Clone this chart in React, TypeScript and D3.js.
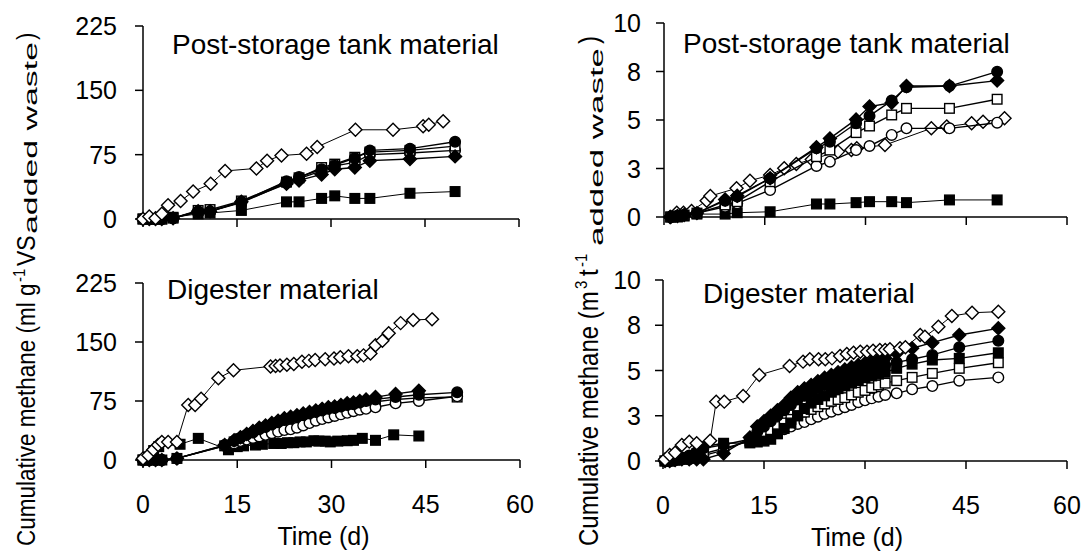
import React from 'react';
import * as d3 from 'd3';

// ---------- axis ticks ----------
const X_TICKS = [0, 15, 30, 45, 60];
const ML_TICKS = [0, 75, 150, 225];
const ML_TICK_LABELS = ['0', '75', '150', '225'];
const M3_TICKS = [0, 2.5, 5, 7.5, 10];
const M3_TICK_LABELS = ['0', '3', '5', '8', '10'];

// ---------- top-left: post-storage tank material (ml g-1 VS) ----------
const tlDays = [0, 1, 2, 3, 4.8, 8.8, 10.7, 15.7, 22.9, 24.9, 28.5, 30.6, 33.8, 36.2, 42.6, 49.8];
const tlFilledCircle = [0, 0, 0, 0, 1, 9, 9, 20, 44, 49, 58, 63, 71, 80, 82, 90];
const tlOpenSquare = [0, 0, 0, 0, 1, 10, 11, 21, 43, 48, 60, 64, 72, 78, 80, 85];
const tlOpenCircle = [0, 0, 0, 0, 1, 8, 9, 19, 42, 47, 56, 62, 66, 75, 77, 80];
const tlFilledDiamond = [0, 0, 0, 0, 1, 9, 9, 20, 41, 45, 52, 58, 60, 68, 70, 73];
const tlFilledSquare = [0, 0, 0, 0, 2, 6, 7, 10, 20, 20, 24, 27, 24, 24, 30, 32];
const tlOpenDiamondDays = [0, 1, 2, 3, 4, 6, 8, 10.8, 13.1, 18.1, 19.8, 22.1, 26.1, 27.8, 33.9, 39.9, 44.7, 45.6, 47.9];
const tlOpenDiamond = [0, 3, 1, 6, 16, 21, 32, 41, 56, 59, 68, 74, 76, 84, 104, 104, 108, 110, 114];

// ---------- top-right: post-storage tank material (m3 t-1) ----------
const trDays = [1, 2, 3, 4.9, 9.1, 10.9, 15.8, 22.7, 24.7, 28.6, 30.6, 33.9, 36.1, 42.5, 49.6];
const trFilledCircle = [0, 0.05, 0.1, 0.2, 0.84, 1.05, 1.99, 3.54, 3.88, 4.83, 5.21, 6.0, 6.69, 6.75, 7.49];
const trFilledDiamond = [0, 0.05, 0.1, 0.2, 0.9, 1.1, 2.0, 3.59, 4.05, 5.03, 5.69, 5.89, 6.75, 6.75, 7.03];
const trOpenSquare = [0, 0.05, 0.1, 0.2, 0.62, 0.79, 1.82, 3.11, 3.45, 4.35, 4.69, 5.26, 5.6, 5.6, 6.07];
const trOpenCircle = [0, 0.05, 0.1, 0.2, 0.53, 0.7, 1.39, 2.63, 2.85, 3.45, 3.66, 4.23, 4.57, 4.57, 4.86];
const trFilledSquare = [0, 0, 0.05, 0.15, 0.15, 0.22, 0.27, 0.67, 0.67, 0.74, 0.79, 0.79, 0.74, 0.88, 0.88];
const trOpenDiamondDays = [0.9, 1.9, 2.9, 4.1, 6.35, 6.9, 10.8, 12.8, 15.8, 17.9, 19.7, 22.0, 25.9, 27.9, 28.7, 32.9, 39.8, 42.1, 45.8, 47.5, 50.7];
const trOpenDiamond = [0, 0.22, 0.22, 0.31, 0.84, 1.08, 1.48, 1.87, 2.16, 2.51, 2.73, 2.97, 3.37, 3.45, 3.54, 3.71, 4.57, 4.66, 4.83, 4.91, 5.09];

// ---------- bottom-left: digester material (ml g-1 VS) ----------
const blDays = [0, 1, 2, 3, 5.4, 13, 14.5, 15.5, 16.5, 17.5, 18.5, 19.5, 20.5, 21.5, 22.5, 23.5, 24.5, 25.5, 26.5, 27.5, 28.5, 29.5, 30.5, 31.5, 32.5, 33.5, 34.5, 35.5, 37, 40.2, 43.9, 50];
const blFilledDiamond = [0, 0, 0, 0, 2, 19, 25, 29, 33, 37, 41, 44, 47, 50, 53, 55, 57, 59, 61, 63, 65, 67, 68, 70, 72, 73, 75, 77, 80, 84, 88];
const blFilledCircle = [0, 0, 0, 0, 2, 19, 24, 28, 32, 35, 39, 42, 45, 48, 51, 53, 55, 57, 59, 61, 63, 65, 66, 68, 70, 71, 73, 75, 77, 80, 83, 86];
const blOpenSquare = [0, 0, 0, 0, 2, 18, 23, 27, 30, 33, 36, 39, 42, 45, 48, 50, 52, 54, 56, 58, 60, 62, 63, 65, 67, 68, 70, 72, 74, 77, 79, 80];
const blOpenCircle = [0, 0, 0, 0, 2, 18, 21, 24, 26, 28, 30, 32, 34, 36, 38, 39, 41, 44, 47, 50, 52, 54, 56, 58, 60, 62, 64, 65, 67, 72, 75, 81];
const blFilledSquareDays = [0, 1, 1.7, 2.5, 5.9, 8.8, 13.6, 15, 16, 17.9, 19, 20.8, 22, 23, 24, 25, 26, 27.2, 28, 29, 29.8, 31, 32.5, 33.5, 34.9, 37, 39.9, 43.9];
const blFilledSquare = [0, 4, 12, 17, 20, 27.5, 13, 17, 18, 19, 20, 21, 21, 22, 22, 23, 23, 24.5, 24, 24, 23, 24, 24.5, 25, 27.5, 25, 32, 30.5];
const blOpenDiamondDays = [0, 0.85, 1.65, 2.4, 3, 4, 5.4, 7.2, 8.3, 9.25, 12, 14.4, 20.3, 21.1, 21.8, 22.9, 24, 25.3, 26.4, 27.4, 29, 30.4, 31.4, 32.7, 34.1, 35.1, 36.2, 37, 38.1, 39.1, 41, 43, 46];
const blOpenDiamond = [2, 6, 13, 19, 23, 23, 23, 70, 70, 78, 104, 114, 119, 119.5, 120, 121, 122, 125, 126, 127, 128, 129, 130.5, 132, 132, 133, 135.5, 146, 151.6, 161, 174, 178, 179];

// ---------- bottom-right: digester material (m3 t-1) ----------
const brDays = [0.3, 1, 1.8, 2.8, 3.9, 5, 6, 9, 12.9, 14, 15, 16, 17, 18, 19, 20, 21, 22, 23, 24, 25, 26, 27, 28, 29, 30, 31, 32, 33, 34.7, 37, 40, 44, 49.8];
const brFilledDiamond = [0, 0, 0.05, 0.1, 0.1, 0.1, 0.1, 0.42, 1.3, 1.9, 2.2, 2.5, 2.8, 3.1, 3.5, 3.8, 4.0, 4.2, 4.4, 4.6, 4.75, 4.9, 5.05, 5.2, 5.3, 5.4, 5.5, 5.6, 5.67, 5.95, 6.23, 6.54, 6.96, 7.33];
const brFilledCircle = [0, 0.05, 0.1, 0.2, 0.3, 0.5, 0.7, 0.9, 1.2, 1.6, 1.9, 2.2, 2.5, 2.8, 3.1, 3.4, 3.6, 3.8, 4.0, 4.2, 4.35, 4.5, 4.65, 4.8, 4.9, 5.0, 5.1, 5.2, 5.3, 5.45, 5.62, 5.86, 6.28, 6.65];
const brFilledSquare = [0, 0, 0.05, 0.1, 0.2, 0.4, 0.79, 0.98, 1.0, 1.05, 1.1, 1.2, 1.5, 1.8, 2.1, 2.5, 2.9, 3.2, 3.4, 3.6, 3.8, 4.0, 4.15, 4.3, 4.45, 4.6, 4.7, 4.8, 4.9, 5.12, 5.35, 5.58, 5.67, 5.98];
const brOpenSquare = [0, 0, 0.05, 0.1, 0.15, 0.2, 0.4, 0.7, 1.1, 1.3, 1.5, 1.7, 1.9, 2.1, 2.3, 2.5, 2.7, 2.85, 3.0, 3.15, 3.3, 3.4, 3.5, 3.65, 3.8, 3.9, 4.05, 4.2, 4.3, 4.44, 4.62, 4.84, 5.12, 5.43];
const brOpenCircle = [0, 0, 0.05, 0.1, 0.1, 0.15, 0.3, 0.6, 1.16, 1.3, 1.4, 1.5, 1.6, 1.75, 1.9, 2.05, 2.15, 2.3, 2.45, 2.6, 2.72, 2.85, 2.97, 3.1, 3.25, 3.35, 3.46, 3.55, 3.65, 3.74, 3.96, 4.14, 4.44, 4.62];
const brOpenDiamondDays = [0.3, 1, 1.8, 2.8, 3.9, 5, 7, 7.9, 9.1, 11.9, 14.3, 18.8, 20.8, 21.8, 23.1, 24.1, 25.1, 26.3, 27.3, 28.3, 29.3, 30.3, 31.2, 32.2, 33, 33.7, 35.2, 36, 38.2, 38.9, 40.9, 42.9, 45.9, 49.8];
const brOpenDiamond = [0.09, 0.33, 0.46, 0.88, 1.07, 0.98, 1.12, 3.28, 3.28, 3.59, 4.75, 5.25, 5.49, 5.62, 5.62, 5.62, 5.67, 5.8, 5.91, 5.98, 6.04, 6.04, 6.09, 6.13, 6.13, 6.17, 6.23, 6.28, 6.96, 6.87, 7.42, 8.01, 8.19, 8.25];

type Marker = 'od' | 'fd' | 'fc' | 'oc' | 'os' | 'fs';
interface Series { marker: Marker; days: number[]; values: number[]; lw: number; }

const mk = (marker: Marker, days: number[], values: number[], lw = 1.4): Series => ({ marker, days, values, lw });

const panels = [
  {
    title: 'Post-storage tank material', titleX: 172, titleY: 54,
    left: 143, right: 519, bottom: 219, top: 26, yMax: 225,
    yTicks: ML_TICKS, yLabels: ML_TICK_LABELS, labelEnd: 117, xLabels: false,
    series: [
      mk('fs', tlDays, tlFilledSquare, 1),
      mk('oc', tlDays, tlOpenCircle),
      mk('os', tlDays, tlOpenSquare),
      mk('fd', tlDays, tlFilledDiamond),
      mk('fc', tlDays, tlFilledCircle),
      mk('od', tlOpenDiamondDays, tlOpenDiamond, 1),
    ],
  },
  {
    title: 'Post-storage tank material', titleX: 683, titleY: 53,
    left: 664, right: 1067, bottom: 217, top: 23, yMax: 10,
    yTicks: M3_TICKS, yLabels: M3_TICK_LABELS, labelEnd: 641, xLabels: false,
    series: [
      mk('fs', trDays, trFilledSquare, 1),
      mk('od', trOpenDiamondDays, trOpenDiamond, 1),
      mk('oc', trDays, trOpenCircle),
      mk('os', trDays, trOpenSquare),
      mk('fd', trDays, trFilledDiamond),
      mk('fc', trDays, trFilledCircle),
    ],
  },
  {
    title: 'Digester material', titleX: 167, titleY: 299,
    left: 143, right: 520, bottom: 460, top: 283, yMax: 225,
    yTicks: ML_TICKS, yLabels: ML_TICK_LABELS, labelEnd: 117, xLabels: true,
    series: [
      mk('fs', blFilledSquareDays, blFilledSquare, 1),
      mk('os', blDays, blOpenSquare),
      mk('oc', blDays, blOpenCircle),
      mk('fc', blDays, blFilledCircle),
      mk('fd', blDays, blFilledDiamond),
      mk('od', blOpenDiamondDays, blOpenDiamond, 1),
    ],
  },
  {
    title: 'Digester material', titleX: 703, titleY: 303,
    left: 663, right: 1067, bottom: 461, top: 280, yMax: 10,
    yTicks: M3_TICKS, yLabels: M3_TICK_LABELS, labelEnd: 641, xLabels: true,
    series: [
      mk('oc', brDays, brOpenCircle),
      mk('os', brDays, brOpenSquare),
      mk('fs', brDays, brFilledSquare),
      mk('fc', brDays, brFilledCircle),
      mk('fd', brDays, brFilledDiamond),
      mk('od', brOpenDiamondDays, brOpenDiamond, 1),
    ],
  },
];

const FONT = '"Liberation Sans", Arial, Helvetica, sans-serif';

function MarkerShape({ type, x, y }: { type: Marker; x: number; y: number }) {
  const filled = type === 'fd' || type === 'fc' || type === 'fs';
  const fill = filled ? '#000' : '#fff';
  const sw = 1.4;
  if (type === 'od' || type === 'fd') {
    const r = 6.5;
    return <polygon points={`${x},${y - r} ${x + r},${y} ${x},${y + r} ${x - r},${y}`} fill={fill} stroke="#000" strokeWidth={sw} />;
  }
  if (type === 'fc' || type === 'oc') {
    return <circle cx={x} cy={y} r={5.3} fill={fill} stroke="#000" strokeWidth={sw} />;
  }
  const s = 9.6;
  return <rect x={x - s / 2} y={y - s / 2} width={s} height={s} fill={fill} stroke="#000" strokeWidth={sw} />;
}

function Panel({ p }: { p: typeof panels[number] }) {
  const xs = d3.scaleLinear().domain([0, 60]).range([p.left, p.right]);
  const ys = d3.scaleLinear().domain([0, p.yMax]).range([p.bottom, p.top]);
  const line = d3.line<[number, number]>().x(d => xs(d[0])).y(d => ys(d[1]));
  return (
    <g>
      <line x1={p.left} x2={p.left} y1={ys(p.yMax)} y2={p.bottom} stroke="#000" strokeWidth={1.5} />
      <line x1={p.left} x2={xs(60)} y1={p.bottom} y2={p.bottom} stroke="#000" strokeWidth={1.5} />
      {p.yTicks.map((t, i) => (
        <g key={'y' + i}>
          <line x1={p.left - 8} x2={p.left} y1={ys(t)} y2={ys(t)} stroke="#000" strokeWidth={1.5} />
          <text x={p.labelEnd} y={ys(t)} dy="0.36em" textAnchor="end" fontSize={25} fontFamily={FONT}>{p.yLabels[i]}</text>
        </g>
      ))}
      {X_TICKS.map((t, i) => (
        <g key={'x' + i}>
          <line x1={xs(t)} x2={xs(t)} y1={p.bottom} y2={p.bottom + 8} stroke="#000" strokeWidth={1.5} />
          {p.xLabels && (
            <text x={xs(t)} y={p.bottom + 53} textAnchor="middle" fontSize={25} fontFamily={FONT}>{t}</text>
          )}
        </g>
      ))}
      {p.xLabels && (
        <text x={(p.left + p.right) / 2 - 8} y={p.bottom + 85} textAnchor="middle" fontSize={25} fontFamily={FONT}>Time (d)</text>
      )}
      <text x={p.titleX} y={p.titleY} fontSize={28} fontFamily={FONT}>{p.title}</text>
      {p.series.map((s, si) => {
        const pts: [number, number][] = s.values.map((v, i) => [s.days[i], v]);
        return (
          <g key={si}>
            <path d={line(pts) || ''} fill="none" stroke="#000" strokeWidth={s.lw} />
            {pts.map((d, i) => (
              <MarkerShape key={i} type={s.marker} x={xs(d[0])} y={ys(d[1])} />
            ))}
          </g>
        );
      })}
    </g>
  );
}

// rotated axis titles: pieces placed along the vertical (u = -screenY); glyphs widened slightly across the line
function YTitle({ x, pieces }: { x: number; pieces: { t: string; y: number; fs: number; dv: number; len?: number }[] }) {
  return (
    <g transform={`translate(${x},0) scale(1.15,1) rotate(-90)`} fontFamily={FONT}>
      {pieces.map((p, i) => (
        <text key={i} x={-p.y} y={p.dv} fontSize={p.fs}
          {...(p.len ? { textLength: p.len, lengthAdjust: 'spacingAndGlyphs' } : {})}>{p.t}</text>
      ))}
    </g>
  );
}

export default function App() {
  return (
    <svg width={1088} height={554} style={{ position: 'absolute', left: 0, top: 0, background: '#fff' }} xmlns="http://www.w3.org/2000/svg">
      <rect x={0} y={0} width={1088} height={554} fill="#fff" />
      {panels.map((p, i) => <Panel key={i} p={p} />)}
      <YTitle x={35} pieces={[
        { t: 'Cumulative methane (ml g', y: 546, fs: 22.5, dv: 0 },
        { t: '-1', y: 282, fs: 15, dv: -9 },
        { t: 'VS', y: 266, fs: 23, dv: 0 },
        { t: 'added waste', y: 234, fs: 16, dv: 2, len: 192 },
        { t: ')', y: 40, fs: 22.5, dv: 0 },
      ]} />
      <YTitle x={598} pieces={[
        { t: 'Cumulative methane (m', y: 546, fs: 24, dv: 0 },
        { t: '3', y: 289, fs: 15, dv: -10 },
        { t: 't', y: 276, fs: 24, dv: 0 },
        { t: '-1', y: 267, fs: 15, dv: -10 },
        { t: 'added waste', y: 246, fs: 16, dv: 4, len: 198 },
        { t: ')', y: 44, fs: 24, dv: 0 },
      ]} />
    </svg>
  );
}
